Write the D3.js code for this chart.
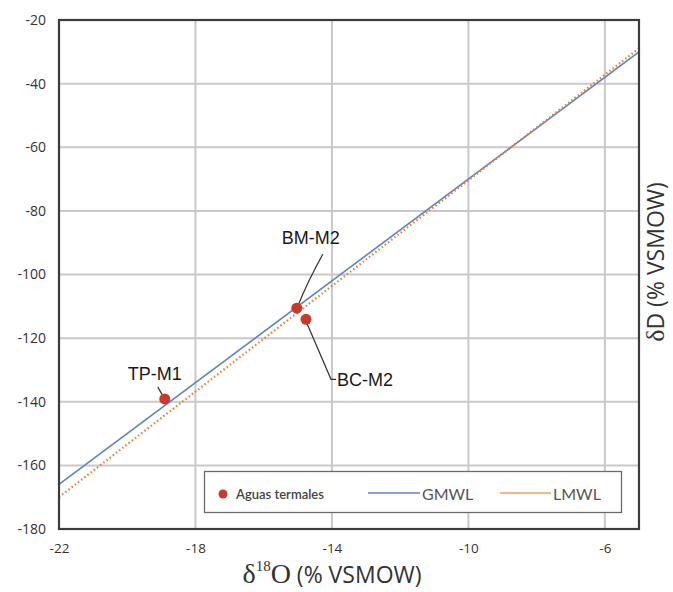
<!DOCTYPE html>
<html>
<head>
<meta charset="utf-8">
<script src="https://cdn.jsdelivr.net/npm/d3@7"></script>
<style>
  html, body { margin: 0; padding: 0; background: #fff; }
  svg { display: block; }
</style>
</head>
<body>
<svg id="chart" width="673" height="592"></svg>
<script>
// ---- data ----
const xTicks = [-22, -18, -14, -10, -6];
const yTicks = [-20, -40, -60, -80, -100, -120, -140, -160, -180];
const sampleNames = ["TP-M1", "BM-M2", "BC-M2"];
const sampleO18 = [-18.9, -15.03, -14.76];
const sampleD = [-139.1, -110.6, -114.1];
const gmwlO18 = [-22, -5];
const gmwlD = [-166, -30];          // δD = 8·δ18O + 10
const lmwlO18 = [-22, -5];
const lmwlD = [-170, -28.9];        // local meteoric water line
const legendLabels = ["Aguas termales", "GMWL", "LMWL"];

// ---- layout ----
const svg = d3.select("#chart");
const L = 59, R = 639, T = 20, B = 529;
const x = d3.scaleLinear().domain([-22, -5]).range([L, R]);
const y = d3.scaleLinear().domain([-180, -20]).range([B, T]);

const gridColor = "#c9c9c9";
// grid
svg.append("g").selectAll("line").data(yTicks).join("line")
  .attr("x1", L).attr("x2", R)
  .attr("y1", d => y(d)).attr("y2", d => y(d))
  .attr("stroke", gridColor).attr("stroke-width", 2);
svg.append("g").selectAll("line").data(xTicks).join("line")
  .attr("y1", T).attr("y2", B)
  .attr("x1", d => x(d)).attr("x2", d => x(d))
  .attr("stroke", gridColor).attr("stroke-width", 2);

// axes tick labels
const fmt = d => String(d);
const yAxis = d3.axisLeft(y).tickValues(yTicks).tickSize(0).tickPadding(13).tickFormat(fmt);
const gy = svg.append("g").attr("transform", `translate(${L},0)`).call(yAxis);
gy.select(".domain").remove();
gy.selectAll("text").attr("font-family", "'Open Sans', sans-serif").attr("font-size", 14).attr("fill", "#333");

const xAxis = d3.axisBottom(x).tickValues(xTicks).tickSize(0).tickPadding(14).tickFormat(fmt);
const gx = svg.append("g").attr("transform", `translate(0,${B})`).call(xAxis);
gx.select(".domain").remove();
gx.selectAll("text").attr("font-family", "'Open Sans', sans-serif").attr("font-size", 13.5).attr("fill", "#333");

// lines
const line = d3.line().x(d => x(d[0])).y(d => y(d[1]));
svg.append("path").datum(gmwlO18.map((v, i) => [v, gmwlD[i]]))
  .attr("d", line).attr("fill", "none").attr("stroke", "#5b84c4").attr("stroke-width", 1.6);
svg.append("path").datum(lmwlO18.map((v, i) => [v, lmwlD[i]]))
  .attr("d", line).attr("fill", "none").attr("stroke", "#ec7c30").attr("stroke-width", 2.2)
  .attr("stroke-dasharray", "1.5,2.5");

// leader lines (offsets from points, in pixels)
const lead = svg.append("g").attr("stroke", "#333").attr("stroke-width", 1.2).attr("fill", "none");
const p0 = [x(sampleO18[0]), y(sampleD[0])];
const p1 = [x(sampleO18[1]), y(sampleD[1])];
const p2 = [x(sampleO18[2]), y(sampleD[2])];
lead.append("path").attr("d", `M${p0[0]-7},${p0[1]-12} L${p0[0]-2},${p0[1]-3}`);
lead.append("path").attr("d", `M${p1[0]+26},${p1[1]-54} Q${p1[0]+10},${p1[1]-25} ${p1[0]+1},${p1[1]-2}`);
lead.append("path").attr("d", `M${p2[0]},${p2[1]+2} L${p2[0]+25},${p2[1]+60} L${p2[0]+30},${p2[1]+60}`);

// points
svg.append("g").selectAll("circle").data(sampleNames).join("circle")
  .attr("cx", (d, i) => x(sampleO18[i])).attr("cy", (d, i) => y(sampleD[i]))
  .attr("r", 5.5).attr("fill", "#c9392c");

// labels
const lab = svg.append("g").attr("font-family", "'Liberation Sans', Arial, sans-serif")
  .attr("font-size", 18).attr("fill", "#1a1a1a");
lab.append("text").attr("x", p0[0] - 10).attr("y", p0[1] - 19).attr("text-anchor", "middle").text(sampleNames[0]);
lab.append("text").attr("x", p1[0] + 14).attr("y", p1[1] - 64).attr("text-anchor", "middle").text(sampleNames[1]);
lab.append("text").attr("x", p2[0] + 31).attr("y", p2[1] + 67).attr("text-anchor", "start").text(sampleNames[2]);

// legend
const lg = svg.append("g");
lg.append("rect").attr("x", 204.5).attr("y", 471.5).attr("width", 417).attr("height", 41)
  .attr("fill", "#fff").attr("stroke", "#6b6b6b").attr("stroke-width", 1.3);
const ly = 494;
lg.append("circle").attr("cx", 223).attr("cy", ly).attr("r", 4.5).attr("fill", "#c9392c");
lg.append("text").attr("x", 236).attr("y", ly + 4.5).attr("font-family", "Lato, 'Open Sans', sans-serif")
  .attr("font-size", 13).attr("font-weight", 600).attr("fill", "#444").text(legendLabels[0]);
lg.append("line").attr("x1", 368).attr("x2", 420).attr("y1", ly - 1).attr("y2", ly - 1)
  .attr("stroke", "#5b84c4").attr("stroke-width", 1.3);
lg.append("text").attr("x", 422).attr("y", ly + 5.5).attr("font-family", "Lato, 'Open Sans', sans-serif")
  .attr("font-size", 16).attr("fill", "#555").text(legendLabels[1]);
lg.append("line").attr("x1", 500).attr("x2", 551).attr("y1", ly - 1).attr("y2", ly - 1)
  .attr("stroke", "#f0a060").attr("stroke-width", 1.3);
lg.append("text").attr("x", 553).attr("y", ly + 5.5).attr("font-family", "Lato, 'Open Sans', sans-serif")
  .attr("font-size", 16).attr("fill", "#555").text(legendLabels[2]);

// plot border
svg.append("rect").attr("x", L).attr("y", T).attr("width", R - L).attr("height", B - T)
  .attr("fill", "none").attr("stroke", "#3c3c3c").attr("stroke-width", 2.2);

// axis titles
const xt = svg.append("text").attr("x", 332).attr("y", 583).attr("text-anchor", "middle").attr("fill", "#333");
xt.append("tspan").attr("font-family", "'Liberation Serif', 'DejaVu Serif', serif").attr("font-size", 28).text("δ");
xt.append("tspan").attr("font-family", "'Liberation Serif', serif").attr("font-size", 15).attr("dy", -12).text("18");
xt.append("tspan").attr("font-family", "'Liberation Serif', serif").attr("font-size", 28).attr("dy", 12).text("O");
xt.append("tspan").attr("font-family", "'Open Sans', sans-serif").attr("font-size", 23).text(" (% VSMOW)");

const yt = svg.append("text").attr("transform", "translate(664,262) rotate(-90)")
  .attr("text-anchor", "middle").attr("fill", "#333");
yt.append("tspan").attr("font-family", "'Liberation Serif', 'DejaVu Serif', serif").attr("font-size", 26).text("δ");
yt.append("tspan").attr("font-family", "'Open Sans', sans-serif").attr("font-size", 23).text("D (% VSMOW)");
</script>
</body>
</html>
